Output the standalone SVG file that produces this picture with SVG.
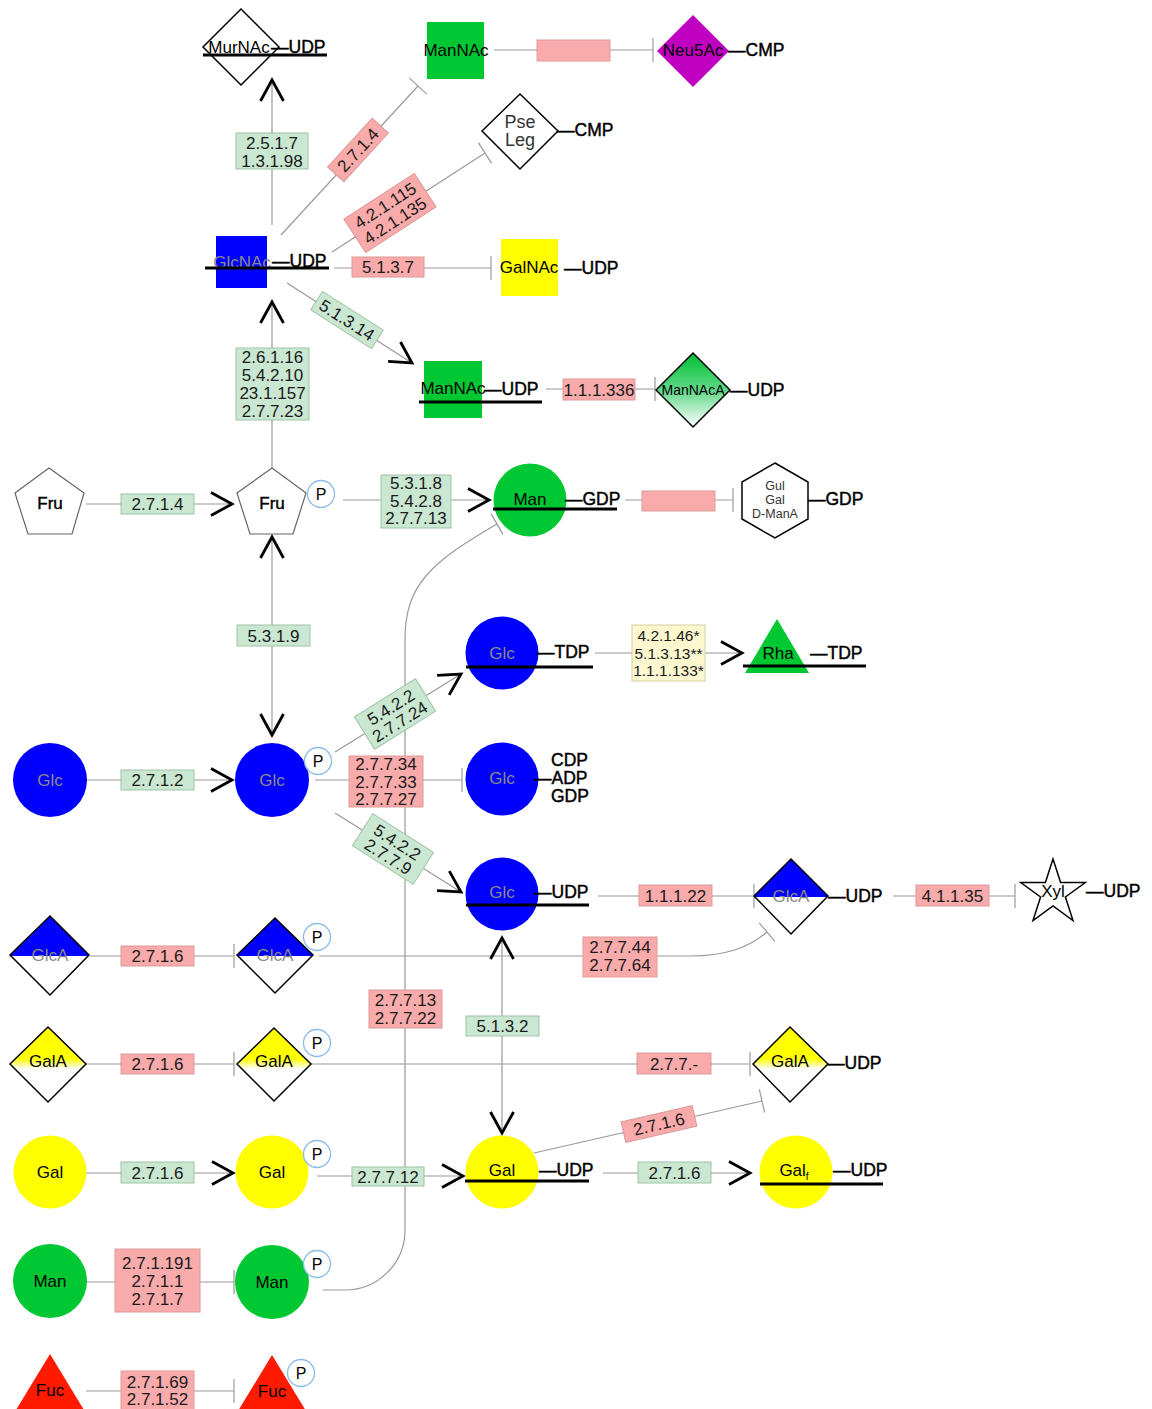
<svg xmlns="http://www.w3.org/2000/svg" width="1152" height="1409" viewBox="0 0 1152 1409">
<style>
text{font-family:"Liberation Sans",Arial,sans-serif}
.c{fill:none;stroke:#9a9a9a;stroke-width:1.2}
.g{fill:#c9e7d1;stroke:#9fc4a8;stroke-width:1}
.r{fill:#f9aaaa;stroke:#dc9a9a;stroke-width:1}
.y{fill:#fdf8cf;stroke:#d6cf9e;stroke-width:1}
.ec{font-size:17px;fill:#1a1a1a;text-anchor:middle}
.ecs{font-size:15.5px;fill:#1a1a1a;text-anchor:middle}
.nuc{font-size:17.5px;fill:#000;stroke:#000;stroke-width:0.45}
.nm{font-size:17px;fill:#000;text-anchor:middle}
.bd{stroke:#000;stroke-width:0.4}
.gr{fill:#8a8a8a}
.ul{stroke:#000;stroke-width:3}
.bk{stroke:#000;stroke-width:1.5}
.pc{fill:#fff;stroke:#8cbcea;stroke-width:1.3}
.pt{font-size:16px;fill:#000;text-anchor:middle}
.blue{fill:#0000ff}
.grn{fill:#00c832}
.yel{fill:#ffff00}
</style>
<defs>
<marker id="ar" viewBox="-24 -14 28 28" refX="0" refY="0" markerWidth="28" markerHeight="28" markerUnits="userSpaceOnUse" orient="auto-start-reverse"><path d="M-21,-11.5 L0,0 L-21,11.5" fill="none" stroke="#000" stroke-width="2.8"/></marker>
<marker id="tb" viewBox="-2 -13 4 26" refX="0" refY="0" markerWidth="4" markerHeight="26" markerUnits="userSpaceOnUse" orient="auto"><path d="M0,-12 V12" stroke="#9a9a9a" stroke-width="1.2"/></marker>
<linearGradient id="blueHalf" x1="0" y1="0" x2="0" y2="1"><stop offset="0.5" stop-color="#0000ff"/><stop offset="0.5" stop-color="#ffffff"/></linearGradient>
<linearGradient id="yelHalf" x1="0" y1="0" x2="0" y2="1"><stop offset="0" stop-color="#ffff00"/><stop offset="0.42" stop-color="#ffff00"/><stop offset="0.56" stop-color="#ffffff"/><stop offset="1" stop-color="#ffffff"/></linearGradient>
<linearGradient id="grnFade" x1="0" y1="0" x2="0" y2="1"><stop offset="0" stop-color="#00c030"/><stop offset="0.5" stop-color="#5fd888"/><stop offset="1" stop-color="#ffffff"/></linearGradient>
</defs>

<g id="connectors">
<path class="c" d="M272,225 V80" marker-end="url(#ar)"/>
<path class="c" d="M281,235 L418,86" marker-end="url(#tb)"/>
<path class="c" d="M332,252 L485,153" marker-end="url(#tb)"/>
<path class="c" d="M334,268 H491" marker-end="url(#tb)"/>
<path class="c" d="M287,283 L412,363" marker-end="url(#ar)"/>
<path class="c" d="M546,389 H655" marker-end="url(#tb)"/>
<path class="c" d="M494,50 H653" marker-end="url(#tb)"/>
<path class="c" d="M86,504 H232" marker-end="url(#ar)"/>
<path class="c" d="M343,500 H489" marker-end="url(#ar)"/>
<path class="c" d="M272,468 V302" marker-end="url(#ar)"/>
<path class="c" d="M272,537 V735" marker-start="url(#ar)" marker-end="url(#ar)"/>
<path class="c" d="M625,500 H733" marker-end="url(#tb)"/>
<path class="c" d="M87,780 H232" marker-end="url(#ar)"/>
<path class="c" d="M335,752 L461,674" marker-end="url(#ar)"/>
<path class="c" d="M315,780 H462" marker-end="url(#tb)"/>
<path class="c" d="M335,813 L461,892" marker-end="url(#ar)"/>
<path class="c" d="M595,653 H742" marker-end="url(#ar)"/>
<path class="c" d="M598,896 H754" marker-end="url(#tb)"/>
<path class="c" d="M893,896 H1015" marker-end="url(#tb)"/>
<path class="c" d="M90,956 H234" marker-end="url(#tb)"/>
<path class="c" d="M319,956 H690 C725,956 748,948 767,932" marker-end="url(#tb)"/>
<path class="c" d="M86,1064 H234" marker-end="url(#tb)"/>
<path class="c" d="M311,1064 H750" marker-end="url(#tb)"/>
<path class="c" d="M502,938 V1133" marker-start="url(#ar)" marker-end="url(#ar)"/>
<path class="c" d="M86,1173 H233" marker-end="url(#ar)"/>
<path class="c" d="M317,1176 H463" marker-end="url(#ar)"/>
<path class="c" d="M534,1153 L762,1101" marker-end="url(#tb)"/>
<path class="c" d="M603,1173 H750" marker-end="url(#ar)"/>
<path class="c" d="M86,1282 H234" marker-end="url(#tb)"/>
<path class="c" d="M323,1290 H345 A60,60 0 0 0 405,1230 V640 C405,585 430,563 497,524" marker-end="url(#tb)"/>
<path class="c" d="M86,1391 H234" marker-end="url(#tb)"/>
</g>

<g id="enzymes">
<rect class="g" x="236" y="133" width="72" height="36"/>
<text class="ec" x="272" y="149">2.5.1.7</text><text class="ec" x="272" y="167">1.3.1.98</text>
<g transform="translate(358,150) rotate(-47.5)"><rect class="r" x="-33" y="-11" width="66" height="22"/><text class="ec" x="0" y="6">2.7.1.4</text></g>
<g transform="translate(390,213) rotate(-33)"><rect class="r" x="-42" y="-20" width="84" height="40"/><text class="ec" x="0" y="-3">4.2.1.115</text><text class="ec" x="0" y="15">4.2.1.135</text></g>
<rect class="r" x="352" y="257" width="72" height="20"/><text class="ec" x="388" y="273">5.1.3.7</text>
<g transform="translate(347,320) rotate(32.5)"><rect class="g" x="-36" y="-11" width="72" height="22"/><text class="ec" x="0" y="6">5.1.3.14</text></g>
<rect class="r" x="563" y="379" width="72" height="21"/><text class="ec" x="599" y="396">1.1.1.336</text>
<rect class="r" x="537" y="40" width="73" height="21"/>
<rect class="g" x="121" y="494" width="73" height="20"/><text class="ec" x="157.5" y="510">2.7.1.4</text>
<rect class="g" x="381" y="475" width="70" height="53"/>
<text class="ec" x="416" y="489">5.3.1.8</text><text class="ec" x="416" y="507">5.4.2.8</text><text class="ec" x="416" y="524">2.7.7.13</text>
<rect class="g" x="236" y="348" width="73" height="72"/>
<text class="ec" x="272.5" y="363">2.6.1.16</text><text class="ec" x="272.5" y="381">5.4.2.10</text><text class="ec" x="272.5" y="399">23.1.157</text><text class="ec" x="272.5" y="417">2.7.7.23</text>
<rect class="g" x="237" y="625" width="73" height="21"/><text class="ec" x="273.5" y="642">5.3.1.9</text>
<rect class="r" x="642" y="491" width="73" height="20"/>
<rect class="g" x="121" y="770" width="73" height="20"/><text class="ec" x="157.5" y="786">2.7.1.2</text>
<g transform="translate(395,714) rotate(-32)"><rect class="g" x="-36" y="-19" width="72" height="38"/><text class="ec" x="0" y="-2">5.4.2.2</text><text class="ec" x="0" y="15">2.7.7.24</text></g>
<rect class="r" x="349" y="756" width="74" height="51"/>
<text class="ec" x="386" y="770">2.7.7.34</text><text class="ec" x="386" y="788">2.7.7.33</text><text class="ec" x="386" y="805">2.7.7.27</text>
<g transform="translate(393,849) rotate(32.5)"><rect class="g" x="-36" y="-19" width="72" height="38"/><text class="ec" x="0" y="-2">5.4.2.2</text><text class="ec" x="0" y="15">2.7.7.9</text></g>
<rect class="y" x="632" y="625" width="73" height="56"/>
<text class="ecs" x="668.5" y="641">4.2.1.46*</text><text class="ecs" x="668.5" y="659">5.1.3.13**</text><text class="ecs" x="668.5" y="676">1.1.1.133*</text>
<rect class="r" x="639" y="885" width="73" height="21"/><text class="ec" x="675.5" y="902">1.1.1.22</text>
<rect class="r" x="916" y="885" width="73" height="21"/><text class="ec" x="952.5" y="902">4.1.1.35</text>
<rect class="r" x="121" y="946" width="73" height="20"/><text class="ec" x="157.5" y="962">2.7.1.6</text>
<rect class="r" x="583" y="937" width="74" height="40"/>
<text class="ec" x="620" y="953">2.7.7.44</text><text class="ec" x="620" y="971">2.7.7.64</text>
<rect class="r" x="369" y="990" width="73" height="38"/>
<text class="ec" x="405.5" y="1006">2.7.7.13</text><text class="ec" x="405.5" y="1024">2.7.7.22</text>
<rect class="g" x="466" y="1016" width="73" height="20"/><text class="ec" x="502.5" y="1032">5.1.3.2</text>
<rect class="r" x="121" y="1054" width="73" height="20"/><text class="ec" x="157.5" y="1070">2.7.1.6</text>
<rect class="r" x="637" y="1053" width="74" height="21"/><text class="ec" x="674" y="1070">2.7.7.-</text>
<rect class="g" x="121" y="1162" width="73" height="21"/><text class="ec" x="157.5" y="1179">2.7.1.6</text>
<rect class="g" x="352" y="1167" width="72" height="19"/><text class="ec" x="388" y="1183">2.7.7.12</text>
<g transform="translate(659,1124) rotate(-13)"><rect class="r" x="-36.5" y="-10.5" width="73" height="21"/><text class="ec" x="0" y="6">2.7.1.6</text></g>
<rect class="g" x="638" y="1162" width="73" height="21"/><text class="ec" x="674.5" y="1179">2.7.1.6</text>
<rect class="r" x="115" y="1249" width="85" height="63"/>
<text class="ec" x="157.5" y="1269">2.7.1.191</text><text class="ec" x="157.5" y="1287">2.7.1.1</text><text class="ec" x="157.5" y="1305">2.7.1.7</text>
<rect class="r" x="121" y="1371" width="73" height="44"/>
<text class="ec" x="157.5" y="1388">2.7.1.69</text><text class="ec" x="157.5" y="1405">2.7.1.52</text>
</g>

<g id="n-murnac">
<polygon points="241,9 279,47 241,85 203,47" fill="#fff" class="bk"/>
<text class="nm" x="239" y="53">MurNAc</text><text class="nuc" x="271" y="53">—UDP</text>
<line class="ul" x1="203" y1="55" x2="327" y2="55"/>
</g>
<g id="n-mannac"><rect class="grn" x="427" y="22" width="57" height="57"/><text class="nm" x="456" y="56">ManNAc</text></g>
<g id="n-neu5ac"><polygon points="693,15 729,51 693,87 657,51" fill="#c000c0"/><text class="nm" x="693" y="56">Neu5Ac</text><text class="nuc" x="728" y="56">—CMP</text></g>
<g id="n-pseleg"><polygon points="520,94 558,131 520,169 482,131" fill="#fff" class="bk"/>
<text x="520" y="128" style="font-size:18px;fill:#333;text-anchor:middle">Pse</text><text x="520" y="146" style="font-size:18px;fill:#333;text-anchor:middle">Leg</text>
<text class="nuc" x="557" y="136">—CMP</text></g>
<g id="n-glcnac"><rect class="blue" x="216" y="236" width="51" height="52"/><text class="nm gr" x="242" y="268">GlcNAc</text><text class="nuc" x="272" y="267">—UDP</text><line class="ul" x1="205" y1="268" x2="329" y2="268"/></g>
<g id="n-galnac"><rect class="yel" x="501" y="239" width="57" height="57"/><text class="nm" x="529" y="273">GalNAc</text><text class="nuc" x="564" y="274">—UDP</text></g>
<g id="n-mannac-udp"><rect class="grn" x="424" y="361" width="58" height="57"/><text class="nm" x="453" y="394">ManNAc</text><text class="nuc" x="484" y="395">—UDP</text><line class="ul" x1="419" y1="402" x2="542" y2="402"/></g>
<g id="n-mannaca"><polygon points="693,353 730,390 693,427 656,390" fill="url(#grnFade)" class="bk"/><text x="693" y="395" style="font-size:14px;fill:#000;text-anchor:middle">ManNAcA</text><text class="nuc" x="730" y="396">—UDP</text></g>
<g id="n-fru"><polygon points="49,468 84,493 72,534 28,534 15,493" fill="#fff" stroke="#666" stroke-width="1.2"/><text class="nm bd" x="50" y="509">Fru</text></g>
<g id="n-frup"><polygon points="272,468 306,493 293,534 250,534 237,493" fill="#fff" stroke="#666" stroke-width="1.2"/><text class="nm bd" x="272" y="509">Fru</text>
<circle class="pc" cx="321" cy="494" r="13.5"/><text class="pt" x="321" y="500">P</text></g>
<g id="n-man-gdp"><circle class="grn" cx="530" cy="500" r="36.5"/><text class="nm" x="530" y="505">Man</text><text class="nuc" x="565" y="505">—GDP</text><line class="ul" x1="493" y1="509" x2="617" y2="509"/></g>
<g id="n-gul"><polygon points="775,463 808,482 808,519 775,538 742,519 742,482" fill="#fff" class="bk"/>
<text x="775" y="490" style="font-size:12.5px;fill:#333;text-anchor:middle">Gul</text><text x="775" y="504" style="font-size:12.5px;fill:#333;text-anchor:middle">Gal</text><text x="775" y="518" style="font-size:12.5px;fill:#333;text-anchor:middle">D-ManA</text>
<text class="nuc" x="808" y="505">—GDP</text></g>
<g id="n-glc"><circle class="blue" cx="50" cy="780" r="37"/><text class="nm gr" x="50" y="786">Glc</text></g>
<g id="n-glcp"><circle class="blue" cx="272" cy="780" r="37"/><text class="nm gr" x="272" y="786">Glc</text><circle class="pc" cx="318" cy="761" r="13.5"/><text class="pt" x="318" y="767">P</text></g>
<g id="n-glc-tdp"><circle class="blue" cx="502" cy="653" r="36.5"/><text class="nm gr" x="502" y="659">Glc</text><text class="nuc" x="537" y="658">—TDP</text><line class="ul" x1="466" y1="667" x2="593" y2="667"/></g>
<g id="n-rha"><polygon points="777,619 809,673 745,673" class="grn"/><text class="nm" x="778" y="659">Rha</text><text class="nuc" x="810" y="659">—TDP</text><line class="ul" x1="743" y1="666" x2="866" y2="666"/></g>
<g id="n-glc-ndp"><circle class="blue" cx="502" cy="779" r="36.5"/><text class="nm gr" x="502" y="784">Glc</text>
<text class="nuc" x="551" y="766">CDP</text><text class="nuc" x="534" y="784">—ADP</text><text class="nuc" x="551" y="802">GDP</text></g>
<g id="n-glc-udp"><circle class="blue" cx="502" cy="894" r="36.5"/><text class="nm gr" x="502" y="898">Glc</text><text class="nuc" x="534" y="898">—UDP</text><line class="ul" x1="466" y1="905" x2="589" y2="905"/></g>
<g id="n-glca-udp"><polygon points="791,859 828,896 791,934 754,896" fill="url(#blueHalf)" class="bk"/><text class="nm gr" x="791" y="902">GlcA</text><text class="nuc" x="828" y="902">—UDP</text></g>
<g id="n-xyl"><polygon points="1053,859 1060.6,882.5 1085.3,882.5 1065.4,897 1073,920.5 1053,906 1033,920.5 1040.6,897 1020.7,882.5 1045.4,882.5" fill="#fff" class="bk"/><text class="nm" x="1053" y="897">Xyl</text><text class="nuc" x="1086" y="897">—UDP</text></g>
<g id="n-glca"><polygon points="50,916 89,955 50,995 10,955" fill="url(#blueHalf)" class="bk"/><text class="nm gr" x="50" y="961">GlcA</text></g>
<g id="n-glcap"><polygon points="275,918 313,955 275,993 237,955" fill="url(#blueHalf)" class="bk"/><text class="nm gr" x="275" y="961">GlcA</text><circle class="pc" cx="317" cy="937" r="13.5"/><text class="pt" x="317" y="943">P</text></g>
<g id="n-gala"><polygon points="48,1027 86,1064 48,1102 10,1064" fill="url(#yelHalf)" class="bk"/><text class="nm" x="48" y="1067">GalA</text></g>
<g id="n-galap"><polygon points="274,1028 311,1064 274,1101 237,1064" fill="url(#yelHalf)" class="bk"/><text class="nm" x="274" y="1067">GalA</text><circle class="pc" cx="317" cy="1043" r="13.5"/><text class="pt" x="317" y="1049">P</text></g>
<g id="n-gala-udp"><polygon points="790,1027 828,1064 790,1102 753,1064" fill="url(#yelHalf)" class="bk"/><text class="nm" x="790" y="1067">GalA</text><text class="nuc" x="827" y="1069">—UDP</text></g>
<g id="n-gal"><circle class="yel" cx="50" cy="1172" r="36.5"/><text class="nm" x="50" y="1178">Gal</text></g>
<g id="n-galp"><circle class="yel" cx="272" cy="1172" r="36.5"/><text class="nm" x="272" y="1178">Gal</text><circle class="pc" cx="317" cy="1154" r="13.5"/><text class="pt" x="317" y="1160">P</text></g>
<g id="n-gal-udp"><circle class="yel" cx="502" cy="1172" r="36.5"/><text class="nm" x="502" y="1176">Gal</text><text class="nuc" x="539" y="1176">—UDP</text><line class="ul" x1="465" y1="1181" x2="589" y2="1181"/></g>
<g id="n-galf-udp"><circle class="yel" cx="796" cy="1172" r="36.5"/><text x="794" y="1176" style="font-size:17px;fill:#000;text-anchor:middle">Gal<tspan style="font-size:10px" dy="4">f</tspan></text><text class="nuc" x="833" y="1176">—UDP</text><line class="ul" x1="760" y1="1184" x2="883" y2="1184"/></g>
<g id="n-man"><circle class="grn" cx="50" cy="1281" r="37"/><text class="nm" x="50" y="1287">Man</text></g>
<g id="n-manp"><circle class="grn" cx="272" cy="1282" r="37"/><text class="nm" x="272" y="1288">Man</text><circle class="pc" cx="317" cy="1264" r="13.5"/><text class="pt" x="317" y="1270">P</text></g>
<g id="n-fuc"><polygon points="50,1354 84,1410 16,1410" fill="#ff1a00"/><text class="nm" x="50" y="1396">Fuc</text></g>
<g id="n-fucp"><polygon points="272,1355 306,1411 238,1411" fill="#ff1a00"/><text class="nm" x="272" y="1397">Fuc</text><circle class="pc" cx="301" cy="1373" r="13.5"/><text class="pt" x="301" y="1379">P</text></g>
</svg>
